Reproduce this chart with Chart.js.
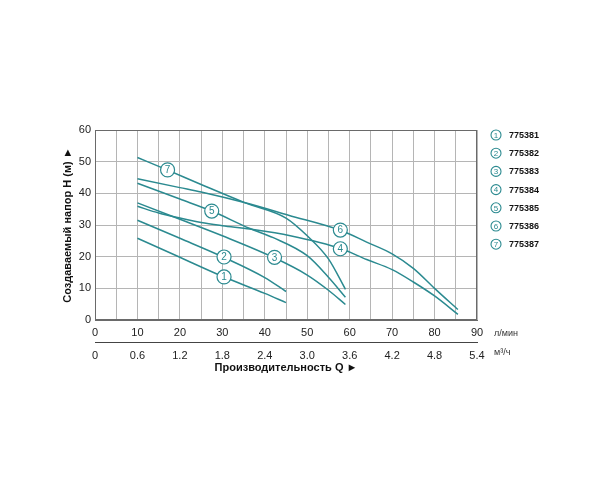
<!DOCTYPE html>
<html>
<head>
<meta charset="utf-8">
<script src="https://cdn.jsdelivr.net/npm/chart.js@4/dist/chart.umd.min.js"></script>
<style>
  body { margin: 0; background: #fff; }
  #wrap { width: 600px; height: 500px; }
</style>
</head>
<body>
<div id="wrap"><canvas id="grafico" width="600" height="500"></canvas></div>
<script>
// modelos de bomba
const modelos = ["775381", "775382", "775383", "775384", "775385", "775386", "775387"];

// curvas Q (л/мин) x H (м)
const vazao1 = [10, 20, 30, 40, 45];
const altura1 = [25.8, 19.8, 13.8, 8.4, 5.5];
const vazao2 = [10, 20, 30, 40, 45];
const altura2 = [31.5, 25.8, 20.0, 13.4, 9.0];
const vazao3 = [10, 20, 30, 42, 50, 55, 59];
const altura3 = [37.0, 31.8, 26.6, 19.8, 14.2, 9.4, 4.9];
const vazao4 = [10, 15, 20, 25, 30, 36.5, 46, 58, 64, 70, 75, 80, 85.5];
const altura4 = [35.9, 33.8, 32.2, 30.8, 29.8, 28.7, 26.6, 22.5, 19.1, 15.9, 12.0, 7.6, 1.8];
const vazao5 = [10, 20, 27.5, 36.5, 42, 50, 55, 59];
const altura5 = [43.2, 38.2, 34.4, 28.9, 26.0, 20.3, 13.5, 7.2];
const vazao6 = [10, 20, 25, 35.4, 45.6, 57.7, 64, 70, 75, 80, 85.5];
const altura6 = [44.6, 41.8, 40.4, 37.0, 33.1, 28.4, 24.6, 20.9, 16.3, 10.0, 3.3];
const vazao7 = [10, 17, 25, 35.4, 45, 50, 55, 59];
const altura7 = [51.3, 47.4, 42.8, 37.0, 32.2, 26.6, 19.3, 9.7];

// posição dos números nas curvas
const rotuloVazao = [30.4, 30.4, 42.3, 57.8, 27.5, 57.8, 17.1];
const rotuloAltura = [13.6, 19.9, 19.8, 22.5, 34.4, 28.4, 47.4];

// rótulos do segundo eixo (м³/ч)
const m3h = ["0", "0.6", "1.2", "1.8", "2.4", "3.0", "3.6", "4.2", "4.8", "5.4"];

const vazoes = [vazao1, vazao2, vazao3, vazao4, vazao5, vazao6, vazao7];
const alturas = [altura1, altura2, altura3, altura4, altura5, altura6, altura7];

const cor = "#2b8a90";
const fonte = "'Liberation Sans', Arial, sans-serif";

const datasets = modelos.map((m, i) => ({
  label: m,
  data: vazoes[i].map((q, j) => ({ x: q, y: alturas[i][j] })),
  borderColor: cor,
  borderWidth: 1.5,
  pointRadius: 0,
  cubicInterpolationMode: "monotone",
  fill: false
}));

const marcas = {
  id: "marcas",
  beforeDatasetsDraw(chart) {
    const { ctx, chartArea: a } = chart;
    ctx.save();
    ctx.strokeStyle = "#6a6a6a";
    ctx.lineWidth = 1;
    ctx.strokeRect(a.left + 0.5, a.top + 0.5, a.right - a.left - 1, a.bottom - a.top - 1);
    ctx.restore();
  },
  afterDatasetsDraw(chart) {
    const ctx = chart.ctx, sx = chart.scales.x, sy = chart.scales.y;
    ctx.save();
    ctx.lineWidth = 1.2;
    ctx.font = "10px " + fonte;
    ctx.textAlign = "center";
    ctx.textBaseline = "middle";
    rotuloVazao.forEach((q, i) => {
      const px = sx.getPixelForValue(q), py = sy.getPixelForValue(rotuloAltura[i]);
      ctx.beginPath();
      ctx.arc(px, py, 7, 0, Math.PI * 2);
      ctx.fillStyle = "#fff";
      ctx.fill();
      ctx.strokeStyle = cor;
      ctx.stroke();
      ctx.fillStyle = cor;
      ctx.fillText(String(i + 1), px, py + 0.5);
    });

    // legenda
    modelos.forEach((m, i) => {
      const cy = 135 + i * 18.2;
      ctx.beginPath();
      ctx.arc(496, cy, 5, 0, Math.PI * 2);
      ctx.strokeStyle = cor;
      ctx.lineWidth = 1.1;
      ctx.stroke();
      ctx.fillStyle = cor;
      ctx.font = "8px " + fonte;
      ctx.textAlign = "center";
      ctx.fillText(String(i + 1), 496, cy + 0.5);
      ctx.fillStyle = "#111";
      ctx.font = "bold 9px " + fonte;
      ctx.textAlign = "left";
      ctx.fillText(m, 509, cy + 0.5);
    });

    // unidades
    const sx2 = chart.scales.x2;
    ctx.fillStyle = "#333";
    ctx.font = "9px " + fonte;
    ctx.textAlign = "left";
    ctx.fillText("л/мин", sx.right + 17, 334);
    ctx.fillText("м³/ч", sx2.right + 17, 353);
    ctx.restore();
  }
};

new Chart(document.getElementById("grafico"), {
  type: "line",
  data: { datasets },
  options: {
    responsive: false,
    animation: false,
    layout: { padding: { left: 56, right: 123, top: 130, bottom: 121 } },
    plugins: { legend: { display: false }, tooltip: { enabled: false } },
    scales: {
      x: {
        type: "linear",
        position: "bottom",
        min: 0, max: 90,
        afterFit: s => { s.height = 22; },
        grid: { color: "#b5b5b5", lineWidth: 1, drawTicks: false },
        border: { color: "#6a6a6a" },
        ticks: {
          stepSize: 5,
          autoSkip: false,
          maxRotation: 0,
          padding: 6,
          color: "#222",
          font: { family: fonte, size: 11 },
          callback: v => (v % 10 === 0 ? v : "")
        }
      },
      x2: {
        type: "linear",
        position: "bottom",
        min: 0, max: 90,
        afterFit: s => { s.height = 37; },
        grid: { display: false, drawTicks: false },
        border: { display: true, color: "#444", width: 1 },
        ticks: {
          stepSize: 10,
          autoSkip: false,
          maxRotation: 0,
          padding: 7,
          color: "#222",
          font: { family: fonte, size: 11 },
          callback: (v, i) => m3h[i]
        },
        title: {
          display: true,
          text: "Производительность Q ►",
          color: "#111",
          font: { family: fonte, size: 11, weight: "bold" },
          padding: { top: 0, bottom: 4 }
        }
      },
      y: {
        min: 0, max: 60,
        afterFit: s => { s.width = 39; },
        grid: { color: "#b5b5b5", lineWidth: 1, drawTicks: false },
        border: { color: "#6a6a6a" },
        ticks: {
          stepSize: 10,
          padding: 4,
          color: "#222",
          font: { family: fonte, size: 11 }
        },
        title: {
          display: true,
          text: "Создаваемый напор H (м) ►",
          color: "#111",
          font: { family: fonte, size: 11, weight: "bold" },
          padding: { top: 5, bottom: 0 }
        }
      }
    }
  },
  plugins: [marcas]
});
</script>
</body>
</html>
